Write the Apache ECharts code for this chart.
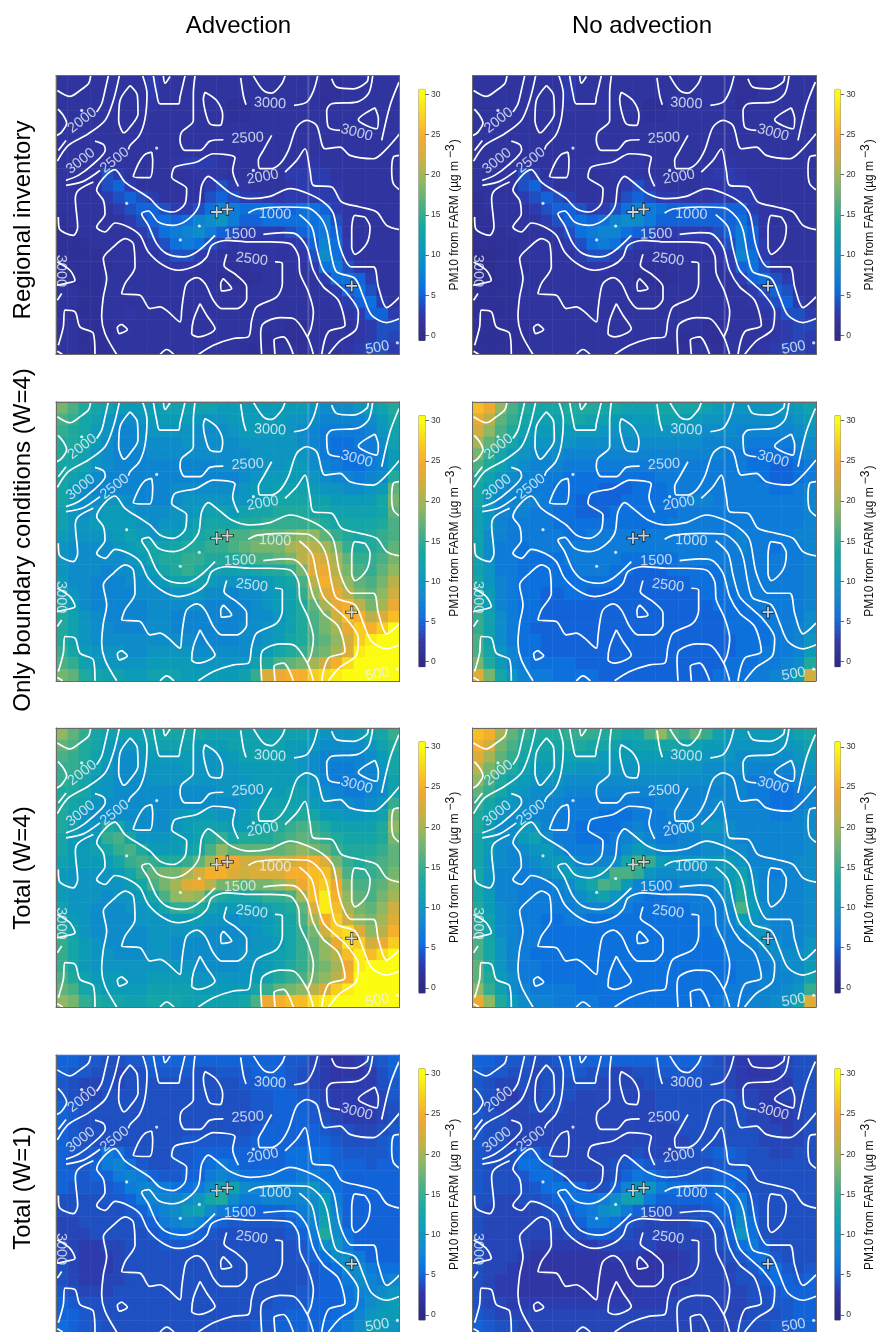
<!DOCTYPE html>
<html><head><meta charset="utf-8">
<style>html,body{margin:0;padding:0;background:#fff}#c{width:877px;height:1332px}</style>
<script src="https://cdn.jsdelivr.net/npm/echarts@6/dist/echarts.min.js"></script>
</head><body><div id="c"></div>
<script>
const columnTitles = ['Advection','No advection'];
const rowTitles = ['Regional inventory','Only boundary conditions (W=4)','Total (W=4)','Total (W=1)'];
const colorStops = ['#2e2a85','#3037a8','#0c6ce0','#0e86d0','#0c9bb8','#18a8a0','#50b080','#90b860','#cbb040','#f5a830','#f8d020','#fcfc10'];
const colorbarTicks = [0,5,10,15,20,25,30];

const regionalAdv = [
[2,2,2,2,2,2,2,2,3,2,2,2,2,2,2,2,2,2,2,2,2,2,2,1.5,1.5,2,2,2,2,2],
[2,2,2,2,2,2,2,2,3,2,2,2,2,2,2,2,2,2,2,2,2,2,2,1.5,1.5,2,2,2,2,2],
[2,2,2,2,2,2,2,2,2.5,2,2,2,2,2,2,1.5,1.5,2,2,2,2,2,2,1.5,2,2,2,2,2,2],
[2,2,2,2,2,2,2,2,2,2,2,2,2,2,2,1.5,1.5,2,2,2,2,2,2,2,2,2,2,2,2,2],
[2,2,2,2,2,2,2,2,2,2,2,2,2,2,2,2,2,2,2,2,2,2,2,2,2,2,2,2,2,2],
[2,2,2,2,2,2,2,2,2,2,2,2,2,2,2,2,2,2,2,2,2,2,2,2,2,2,2,2,2,2],
[2,2,2,2,2,2,2,2,2,2,2,2,2,2,2,2,2,2,2,2,2,2,2,2,2,2,2,2,2,2],
[2,2,2,2,2,2,2,2,2,2,2.5,3,3,3,2.5,2,2,2,2,2,2,2.5,2.5,2,2,2,2,2,2,2],
[2,2,2,2,4,3,2,2,2,2,2,2,2.5,2.5,2.5,2,2,2,2,2,3,3,3,3,2,2,2,2,2,2],
[2,2,2,2,4,5,3,2,2,2,2,2,2,3,4,3,2.5,2,2,2,2.5,3,3,3,2.5,2,2,2,2,2],
[2,2,2,2,3,4,5,4,3,2,2,2,2,4,5,4,3,3,2.5,2.5,3,3,3,3,3,2,2,2,2,2],
[2,2,2,2,2,3,4,5,5,4,3,3,4,6,8,7,6,6,6,5,5,6,6,5,3,2.5,2,2,2,2],
[1.5,2,2,2,2,2,3,4,5,6,5,6,8,9,10,7,5,5,6,6,6,6,6,7,4,2.5,2,2,2,2],
[1.5,1.5,2,2,2,2,2,3,4,6,7,8,9,7,5,4,3,3,3,3,4,5,6,7,5,2.5,2,2,2,2],
[1.5,1.5,1.5,2,2,2,2,2,3,4,6,7,6,4,3,2.5,2.5,2.5,2.5,2.5,2.5,3,5,8,6,3,2,2,2,2],
[1.5,1.5,1.5,1.5,2,2,2,2,2,3,4,4,3,2.5,2,2,2,2,2,2,2,2.5,4,9,6,3,2,2,2,2],
[1.5,1.5,1.5,1.5,1.5,2,2,2,2,2,2.5,2.5,2,2,2,1.5,1.5,2,2,2,2,2,3,6,7,4,2.5,2,2,2],
[1.5,1.5,1.5,1.5,2,2,2,2,2,2,2,2,2,2,1.5,1.5,1.5,1.5,2,2,2,2,2,3,6,6,5,3,2,2],
[2,2,1.5,1.5,2,2,2,2,2,2,2,2,2,2,2,2,1.5,2,2,2,2,2,2,2,3,5,6,4,2,2],
[2,2,1.5,1.5,2,2,2,2,2,2,2,2,2,2,2,2,2,2,2,2,2,2,2,2,2.5,3,5,6,3,2],
[2,1.5,1.5,1.5,2,2,2.5,2,2,2,2,2,2,2,2,2,2,2,2,2,2,2,2,2,2,2.5,3,5,5,3],
[2,2,1.5,1.5,1.5,2,2,2,2,2,2,2,2,2,2,2,2,2,2,2,1.5,1.5,2,2,2,2,2.5,3,4,4],
[2,2,1.5,1.5,1.5,2,2,2,2,2,2,2,2,2,2,2,2,2,1.5,1.5,1.5,1.5,2,2,2,2,2.5,3,4,3.5],
[2,2,1.5,1.5,1.5,2,2,2,2,2,2,2,2,2,2,2,1.5,1.5,1.5,2,2,1.5,2,2,2,2.5,3,4,4,3]];
const regionalNoAdv = [
[2,2,2,2,2,2,2,2,3,2,2,2,2,2,2,2,2,2,2,2,2,2,2,1.5,1.5,2,2,2,2,2],
[2,2,2,2,2,2,2,2,3,2,2,2,2,2,2,2,2,2,2,2,2,2,2,1.5,1.5,2,2,2,2,2],
[2,2,2,2,2,2,2,2,2.5,2,2,2,2,2,2,1.5,1.5,2,2,2,2,2,2,1.5,2,2,2,2,2,2],
[2,2,2,2,2,2,2,2,2,2,2,2,2,2,2,1.5,1.5,2,2,2,2,2,2,2,2,2,2,2,2,2],
[2,2,2,2,2,2,2,2,2,2,2,2,2,2,2,2,2,2,2,2,2,2,2,2,2,2,2,2,2,2],
[2,2,2,2,2,2,2,2,2,2,2,2,2,2,2,2,2,2,2,2,2,2,2,2,2,2,2,2,2,2],
[2,2,2,2,2,2,2,2,2,2,2,2,2,2,2,2,2,2,2,2,2,2,2,2,2,2,2,2,2,2],
[2,2,2,2,2,2,2,2,2,2,2.5,2.5,2.5,2.5,2.5,2,2,2,2,2,2,2.5,2.5,2,2,2,2,2,2,2],
[2,2,2,2,4,3,2,2,2,2,2,2,2.5,2.5,2.5,2,2,2,2,2,2.5,3,3,2.5,2,2,2,2,2,2],
[2,2,2,2,4,5,3,2,2,2,2,2,2,3,4,3,2.5,2,2,2,2.5,2.5,3,3,2.5,2,2,2,2,2],
[1.5,2,2,2,3,4,5,4,3,2,2,2,2,4,5,4,3,3,2.5,2.5,2.5,3,3,3,3,2,2,2,2,2],
[1.5,2,2,2,2,3,4,5,5,4,3,3,4,6,8,7,6,5,5,5,5,5,5,5,3,2.5,2,2,2,2],
[1.5,1.5,2,2,2,2,3,4,5,6,5,6,8,9,9,7,5,5,5,5,5,5,5,6,4,2.5,2,2,2,2],
[1.5,1.5,1.5,2,2,2,2,3,4,6,7,8,8,6,5,4,3,3,3,3,3,4,5,7,5,2.5,2,2,2,2],
[1.5,1.5,1.5,1.5,2,2,2,2,3,4,6,7,6,4,3,2.5,2.5,2.5,2.5,2.5,2.5,3,4,7,5,3,2,2,2,2],
[1,1,1.5,1.5,2,2,2,2,2,3,4,4,3,2.5,2,2,2,2,2,2,2,2.5,3,8,6,3,2,2,2,2],
[1,1,1.5,1.5,1.5,2,2,2,2,2,2.5,2.5,2,2,2,1.5,1.5,2,2,2,2,2,3,5,6,4,2.5,2,2,2],
[1,1,1.5,1.5,2,2,2,2,2,2,2,2,2,2,1.5,1.5,1.5,1.5,2,2,2,2,2,3,5,6,4,3,2,2],
[1.5,1.5,1.5,1.5,2,2,2,2,2,2,2,2,2,2,2,2,1.5,2,2,2,2,2,2,2,3,4,5,4,2,2],
[1.5,1.5,1.5,1.5,2,2,2,2,2,2,2,2,2,2,2,2,2,2,2,2,2,2,2,2,2.5,3,4,5,3,2],
[1.5,1.5,1.5,1.5,2,2,2,2,2,2,2,2,2,2,2,2,2,2,2,2,2,2,2,2,2,2.5,3,4,4,3],
[1.5,1.5,1.5,1.5,1.5,2,2,2,2,2,2,2,2,2,2,2,2,2,2,2,1.5,1.5,2,2,2,2,2.5,3,3.5,3.5],
[1.5,1.5,1.5,1.5,1.5,2,2,2,2,2,2,2,2,2,2,2,2,2,1.5,1.5,1.5,1.5,2,2,2,2,2.5,3,3.5,3],
[1.5,1.5,1.5,1.5,1.5,2,2,2,2,2,2,2,2,2,2,2,1.5,1.5,1.5,2,2,1.5,2,2,2,2.5,3,3.5,3.5,3]];
const boundaryAdv = [
[18,16,14,13,12,11,11,11,11,12,12,12,12,12,11,11,11,11,11,11,11,11,10,9,9,9,10,11,12,14],
[16,15,13,12,10,9,9,10,11,11,11,11,10,10,10,11,11,11,11,11,10,10,9,8,8,8,8,9,11,13],
[15,14,13,11,10,8,8,9,10,10,10,10,9,9,9,10,11,11,11,11,10,9,8,7,7,7,7,8,10,12],
[14,14,13,11,9,8,8,9,9,9,9,10,9,9,9,9,10,10,10,10,10,9,8,7,6,6,7,7,9,12],
[14,13,12,10,9,8,8,8,9,9,9,9,9,9,9,9,9,10,10,10,10,10,9,7,6,6,6,7,8,11],
[13,13,12,10,9,8,8,8,8,8,8,8,8,8,9,9,9,9,10,10,11,11,9,8,7,6,6,7,8,11],
[13,12,11,9,8,8,8,8,8,8,8,8,8,8,8,8,9,10,11,11,11,11,10,9,8,8,7,8,9,14],
[13,11,9,8,8,8,8,8,8,8,9,9,9,9,9,9,10,11,11,12,12,12,11,10,10,9,9,10,11,17],
[13,11,9,9,10,10,9,8,8,8,9,10,10,10,10,10,10,11,12,13,13,13,12,12,11,11,11,11,13,18],
[12,10,9,10,11,11,10,9,9,9,10,10,11,12,12,11,12,13,13,14,14,14,13,13,12,12,12,12,13,17],
[12,10,10,11,11,11,11,10,9,10,10,11,12,13,13,13,14,14,15,15,15,15,15,14,13,13,13,13,14,16],
[11,10,10,10,10,11,12,11,10,11,11,12,13,14,15,16,16,17,17,17,18,19,19,17,15,14,13,14,15,16],
[10,9,9,9,9,10,11,12,13,12,13,14,14,15,15,16,17,18,18,18,20,21,21,20,18,15,14,14,15,17],
[10,9,9,9,9,9,10,11,13,14,14,15,15,14,14,14,15,16,16,17,18,21,23,22,20,17,15,15,16,18],
[10,9,9,9,8,9,9,10,11,13,14,15,14,12,12,12,12,13,14,14,15,18,23,24,21,18,16,15,17,19],
[11,9,9,8,8,8,9,9,10,11,12,12,12,11,10,10,10,10,11,12,13,16,21,25,22,19,17,16,18,21],
[12,10,9,8,8,8,8,9,9,9,10,10,10,9,9,8,9,9,10,11,12,15,19,23,24,21,18,17,19,22],
[13,11,9,8,8,8,8,8,9,9,9,9,9,8,8,8,8,9,10,11,12,14,17,20,24,25,21,18,20,24],
[14,12,10,9,8,8,8,8,9,9,8,8,8,8,8,8,8,9,9,10,12,14,16,18,22,26,25,21,23,26],
[14,12,10,9,9,8,8,8,9,9,8,8,8,8,8,8,9,9,10,11,12,14,16,18,20,24,27,25,27,30],
[14,12,10,9,9,9,9,9,9,9,9,9,8,8,8,8,9,9,10,11,13,14,16,17,19,22,27,29,30,30],
[15,13,11,10,10,10,9,9,10,10,10,10,9,9,9,9,9,10,11,13,14,15,17,18,20,23,29,30,30,30],
[16,15,12,11,10,10,10,10,11,11,11,11,10,10,10,10,10,12,14,16,17,18,20,22,25,28,30,30,30,30],
[18,17,14,13,12,12,11,11,12,12,12,11,11,11,11,11,12,15,23,24,25,25,27,28,29,30,30,30,30,30]];
const boundaryNoAdv = [
[26,24,19,16,14,13,13,13,14,14,14,13,13,12,12,12,13,13,13,13,12,11,10,10,10,10,10,10,11,12],
[24,21,17,15,13,12,12,12,13,13,12,12,11,10,11,11,12,12,11,11,10,10,9,9,9,9,9,9,10,11],
[22,19,16,14,12,11,11,11,11,11,11,10,10,10,10,10,10,10,10,10,9,9,9,8,8,8,8,8,9,10],
[20,17,15,13,11,10,10,10,10,9,9,9,9,9,9,9,9,9,9,9,8,8,8,8,7,7,7,7,8,9],
[18,15,13,11,10,9,9,9,8,8,8,8,8,8,8,8,8,8,8,8,8,8,7,7,6,6,6,6,7,8],
[16,14,12,10,9,8,8,8,7,7,7,7,7,7,7,7,7,7,7,7,7,7,7,7,6,6,5,5,6,7],
[14,12,10,9,8,8,7,7,6,6,6,6,6,6,6,6,7,7,7,7,7,7,7,7,7,6,5,5,6,7],
[13,11,9,8,8,7,7,6,6,6,6,5,5,5,6,6,6,7,7,7,7,7,7,7,7,7,6,6,7,8],
[13,10,8,8,8,8,7,6,6,5,5,5,5,6,6,6,6,6,7,8,8,7,7,7,7,7,7,7,7,8],
[12,10,8,8,8,7,7,6,6,5,5,5,6,6,6,6,6,6,7,7,7,7,7,7,7,7,7,7,7,8],
[12,10,8,7,7,7,7,6,6,6,6,6,6,6,6,6,6,7,7,7,7,7,7,7,7,7,7,7,7,8],
[12,9,8,7,7,7,7,7,6,6,7,7,7,7,7,7,7,7,7,7,7,7,7,8,7,7,7,7,8,8],
[12,9,7,7,6,7,7,7,7,7,7,7,7,7,7,7,7,7,7,7,7,7,7,8,7,7,6,7,7,8],
[12,9,7,7,6,6,6,6,7,7,7,7,7,6,6,6,6,6,7,7,7,7,7,7,7,7,7,7,7,8],
[12,10,7,7,6,6,6,6,6,7,7,7,6,6,5,5,5,6,6,6,6,6,7,7,7,7,7,7,7,8],
[13,10,8,7,6,6,6,6,6,6,6,6,6,5,5,5,5,5,5,6,6,6,7,7,7,7,7,7,7,8],
[13,11,8,7,6,6,5,5,6,6,5,5,5,5,5,5,5,5,5,5,6,6,6,7,7,7,7,7,7,8],
[14,11,8,7,6,6,5,5,5,5,5,5,5,5,5,5,5,5,5,5,5,6,6,6,7,7,7,7,7,8],
[15,12,9,7,6,6,5,5,5,5,5,5,5,5,5,5,5,5,5,5,5,5,6,6,6,7,7,7,7,9],
[15,12,9,7,6,5,5,5,5,5,5,5,5,5,5,5,5,5,5,5,5,5,6,6,6,6,7,7,8,9],
[16,12,9,7,6,6,5,5,5,5,5,5,5,5,5,5,5,5,5,5,5,5,5,6,6,6,7,7,8,10],
[16,13,10,8,6,6,5,5,5,5,5,5,5,5,5,5,5,5,5,5,5,5,5,6,6,7,7,7,8,11],
[18,14,11,8,7,6,6,6,6,5,5,5,5,5,5,5,5,5,5,5,5,5,6,6,6,7,7,8,9,14],
[23,18,13,10,8,7,7,6,6,6,6,5,5,5,5,5,5,5,5,5,5,6,6,6,7,7,8,9,12,22]];
const totalW4Adv = [
[19,17,15,13,12,12,12,12,13,13,13,13,13,12,12,12,12,12,12,12,12,12,11,10,10,10,11,12,13,15],
[17,16,14,13,11,10,10,11,12,12,12,12,11,11,11,12,12,12,12,12,11,11,10,9,9,9,9,10,12,14],
[16,15,14,12,11,9,9,10,11,11,11,11,10,10,10,11,12,12,12,12,11,10,9,8,8,8,8,9,11,13],
[15,15,14,12,10,9,9,10,10,10,10,11,10,10,10,10,11,11,11,11,11,10,9,8,7,7,8,8,10,13],
[15,14,13,11,10,9,9,9,10,10,10,10,10,10,10,10,10,11,11,11,11,11,10,8,7,7,7,8,9,12],
[14,14,13,11,10,9,9,9,9,9,9,9,9,9,10,10,10,10,11,11,12,12,10,9,8,7,7,8,9,12],
[14,13,12,10,9,9,9,9,9,9,9,9,9,9,9,9,10,11,12,12,12,12,11,10,9,9,8,9,10,15],
[14,12,10,9,9,9,9,9,9,9,10,11,11,11,10,10,11,12,12,13,13,14,13,11,11,10,10,11,12,18],
[14,12,10,10,14,13,10,9,9,9,10,11,12,12,12,11,11,12,13,14,15,16,15,14,12,12,12,12,14,19],
[13,11,10,11,15,16,13,10,10,10,11,11,12,14,15,13,14,14,14,15,16,17,16,15,14,13,13,13,14,18],
[13,11,11,12,13,15,16,14,11,11,11,12,13,16,19,17,17,17,17,17,18,19,18,17,15,14,14,14,15,17],
[12,11,11,11,11,13,15,16,15,14,14,15,17,20,24,24,22,22,22,22,22,24,25,23,18,15,14,15,16,17],
[11,10,10,10,10,11,13,15,17,18,18,20,22,25,25,23,22,23,23,23,25,25,26,26,21,16,15,15,16,18],
[11,10,10,10,10,10,11,13,16,18,20,23,24,21,18,18,17,18,18,19,21,24,26,27,24,18,16,16,17,19],
[11,10,10,10,9,10,10,11,13,16,19,20,19,15,14,13,13,14,15,15,16,20,26,29,25,19,17,16,18,20],
[12,10,10,9,9,9,10,10,11,13,15,15,14,12,11,11,11,11,12,13,14,17,23,29,26,20,18,17,19,22],
[13,11,10,9,9,9,9,10,10,10,11,11,11,10,10,9,10,10,11,12,13,16,20,25,27,22,19,18,20,23],
[14,12,10,9,9,9,9,9,10,10,10,10,10,9,9,9,9,10,11,12,13,15,18,22,27,28,23,19,21,25],
[15,13,11,10,9,9,9,9,10,10,9,9,9,9,9,9,9,10,10,11,13,15,17,19,24,28,27,22,24,27],
[15,13,11,10,10,9,9,9,10,10,9,9,9,9,9,9,10,10,11,12,13,15,17,19,21,26,29,26,28,30],
[15,13,11,10,10,10,10,10,10,10,10,10,9,9,9,9,10,10,11,12,14,15,17,18,20,24,29,30,30,30],
[16,14,12,11,11,11,10,10,11,11,11,11,10,10,10,10,10,11,12,14,15,16,18,19,21,25,30,30,30,30],
[17,16,13,12,11,11,11,11,12,12,12,12,11,11,11,11,11,13,15,17,18,19,21,23,27,29,30,30,30,30],
[19,18,15,14,13,13,12,12,13,13,13,12,12,12,12,12,13,16,24,25,26,26,28,29,30,30,30,30,30,30]];
const totalW4NoAdv = [
[26,25,20,17,15,14,14,14,15,15,15,14,14,13,13,16,19,16,15,17,15,12,11,11,11,11,11,11,12,13],
[25,22,18,16,14,13,13,13,14,14,13,13,12,11,12,12,13,13,12,12,11,11,10,10,10,10,10,10,11,12],
[23,20,17,15,13,12,12,12,12,12,12,11,11,11,11,11,11,11,11,11,10,10,10,9,9,9,9,9,10,11],
[21,18,16,14,12,11,11,11,11,10,10,10,10,10,10,10,10,10,10,10,9,9,9,9,8,8,8,8,9,10],
[19,16,14,12,11,10,10,10,9,9,9,9,9,9,9,9,9,9,9,9,9,9,8,8,7,7,7,7,8,9],
[17,15,13,11,10,9,9,9,8,8,8,8,8,8,8,8,8,8,8,8,8,8,8,8,7,7,6,6,7,8],
[15,13,11,10,9,9,8,8,7,7,7,7,7,7,7,7,8,8,8,8,8,9,8,8,8,7,6,6,7,8],
[14,12,10,9,9,8,8,7,7,7,7,6,6,6,7,7,7,8,8,8,8,9,8,8,8,8,7,7,8,9],
[14,11,9,9,11,10,8,7,7,6,6,6,6,7,8,7,7,7,8,9,10,10,9,8,8,8,8,8,8,9],
[13,11,9,9,11,12,9,7,7,6,6,6,7,8,9,8,7,7,8,8,9,9,9,8,8,8,8,8,8,9],
[13,11,9,8,9,10,11,9,7,7,7,7,7,9,11,10,8,8,8,8,9,9,9,9,8,8,8,8,8,9],
[13,10,9,8,8,9,10,11,10,8,8,8,9,13,16,15,11,10,10,10,10,11,11,10,8,8,8,8,9,9],
[13,10,8,8,7,8,9,10,11,10,10,11,16,16,15,10,9,9,9,9,10,10,11,12,9,8,7,8,8,9],
[13,10,8,8,7,7,7,8,9,11,13,16,15,11,8,8,7,7,8,8,8,9,11,13,10,8,8,8,8,9],
[13,11,8,8,7,7,7,7,8,9,11,12,10,8,7,6,6,7,7,7,7,8,10,14,11,8,8,8,8,9],
[14,11,9,8,7,7,7,7,7,8,8,8,8,7,6,6,6,6,6,7,7,7,9,16,11,9,8,8,8,9],
[14,12,9,8,7,7,6,6,7,7,6,6,6,6,6,6,6,6,6,6,7,7,8,11,10,9,8,8,8,9],
[15,12,9,8,7,7,6,6,6,6,6,6,6,6,6,6,6,6,6,6,6,7,7,8,10,10,8,8,8,9],
[16,13,10,8,7,7,6,6,6,6,6,6,6,6,6,6,6,6,6,6,6,6,7,7,8,10,9,8,8,10],
[16,13,10,8,7,6,6,6,6,6,6,6,6,6,6,6,6,6,6,6,6,6,7,7,7,8,9,9,9,10],
[17,13,10,8,7,7,6,6,6,6,6,6,6,6,6,6,6,6,6,6,6,6,6,7,7,7,8,9,9,11],
[17,14,11,9,7,7,6,6,6,6,6,6,6,6,6,6,6,6,6,6,6,6,6,7,7,8,8,8,9,12],
[19,15,12,9,8,7,7,7,7,6,6,6,6,6,6,6,6,6,6,6,6,6,7,7,7,8,8,9,10,15],
[24,19,14,11,9,8,8,7,7,7,7,6,6,6,6,6,6,6,6,6,6,7,7,7,8,8,9,10,13,23]];
const totalW1Adv = [
[5,5,4.5,4.5,4,4,4.5,4.5,5,5,5,5,5,5,5,5,5,5,5,5,4.5,4.5,3.5,3,2.5,2.5,3,4,4.5,5],
[5,4.5,4.5,4,4,3.5,4,4,4.5,4.5,4.5,4.5,4,4,4.5,4.5,4.5,5,5,5,4.5,4,3.5,3,2.5,2.5,2.5,3,4,5],
[4.5,4,3.5,3.5,4,3.5,4,4,4,4,4,4,4,4,4,4,4.5,4.5,5,5,4.5,4,3.5,3,2.5,3,3,3,4,4.5],
[4.5,4,3.5,3.5,4,4,4,4,4,4,4,4,4,4,4,4,4,4.5,4.5,5,5,4.5,4,3.5,3,3,3,3,3.5,4.5],
[5,4.5,4,4,4,4,4,4,4,4,4,4,4,4,4,4,4,4.5,4.5,5,5,5,4.5,3.5,3,3,3,3,3.5,4],
[5,4.5,4,4,4,4,4,4,4,4,4,4,4,4,4,4,4,4,4.5,5,5,5,4.5,4,3.5,3,3,3,3.5,4],
[5,4.5,4,4,4,4,4,4,4,4,4,4,4,4,4,4,4,4.5,5,5,5,5,5,4.5,4,4,3.5,3.5,4,4.5],
[5,4.5,4,4,4,4,4,4,4,4,4,4.5,4.5,4.5,4.5,4.5,4.5,5,5,5,5,5,5,5,4.5,4,4,4,4.5,5],
[5,4.5,4.5,4.5,7,6,4.5,4,4,4,4.5,4.5,5,5,5,5,5,5,5,5,6,6,6,5.5,5,4.5,4.5,4.5,4.5,5],
[5,4.5,4.5,5,7,8,6,4.5,4,4,4.5,4.5,5,6,7,6,5,5,5,5,5.5,6,6,6,5,5,5,4.5,5,5],
[5,5,4.5,5,5,7,8,7,5,4.5,4.5,5,5,7,8,7,6,6,6,6,6,7,7,6,6,5,5,5,5,5],
[5,4.5,4.5,4.5,4.5,5,7,8,8,7,6,6,7,9,12,12,9,8,8,8,8,9,10,8,6,5,5,5,5,5],
[4,4,4,4,4.5,4.5,5,7,8,8,8,9,10,13,14,9,7,7,8,8,8,8,9,11,7,5,5,5,5,5],
[4,4,4,4,4,4,4.5,5,7,8,9,11,12,9,7,6,5,5,5,5,6,7,9,11,8,5,5,5,5,5],
[3.5,3.5,4,4,4,4,4,4.5,5,7,8,9,8,6,5,4.5,4.5,4.5,4.5,4.5,5,6,8,12,9,5,5,5,5,5],
[3.5,3.5,3.5,4,4,4,4,4,4.5,5,6,6,5,4.5,4,4,4,4,4,4,4.5,5,7,14,9,6,5,5,5,5],
[3.5,3.5,3,3,3.5,3.5,4,4,4,4.5,4.5,4.5,4,4,4,4,4,4,4,4,4,4.5,6,9,10,7,5,5,5,5],
[3.5,3.5,3,3,3,3.5,4,4,4,4,4,4,4,4,4,4,4,4,4,4,4,4.5,5,6,9,9,7,5,5,5],
[4,3.5,3,3,3,3.5,4,4,4,4,4,4,4,4,4,4,4,4,4,4,4,4,4.5,5,6,9,9,7,6,6],
[4,3.5,3,3,3.5,3.5,4,4,4,4,4,4,4,4,4,4,4,4,4,4,4,4,4.5,5,5,7,9,8,7,8],
[4.5,4,3.5,3.5,3.5,4,4,4,4,4,4,4,4,4,4,4,4,4,4,4,4,4.5,4.5,5,5,6,8,8,9,10],
[5,4.5,4,4,4,4,4,4,4,4,4,4,4,4,4,4,4,4,4,4.5,4.5,4.5,5,5,5,6,7,9,10,11],
[5,5,4.5,4,4,4,4,4,4,4,4,4,4,4,4,4,4,4,4.5,4.5,5,5,5,5,5.5,6,8,10,11,11],
[5.5,5,4.5,4.5,4,4,4,4,4,4,4,4,4,4,4,4,4,4.5,4.5,5,5,5,5,5.5,6,7,9,11,11,10]];
const totalW1NoAdv = [
[5,5,4.5,4.5,4.5,4,4,4.5,5,5,5,5,5,5,5,5,5,5,5,5,4.5,4,3.5,3,3,3,3,3.5,4,4],
[5,4.5,4.5,4,4,3.5,4,4,4.5,4.5,4,4,3.5,3.5,4,4,4.5,4.5,4.5,4.5,4,4,3.5,3,2.5,2.5,3,3.5,4,4],
[4.5,4,3.5,3.5,4,3.5,4,4,4,4,4,3.5,3.5,3.5,3.5,4,4,4,4,4,4,4,3.5,3,3,3,3,3,4,4],
[4.5,4,3.5,3,3.5,3.5,4,4,4,3.5,3.5,3.5,3.5,3.5,3.5,3.5,4,4,4,4,4,4,4,3.5,3.5,3,3,3.5,3.5,4],
[4.5,4,3.5,3.5,3.5,4,4,4,3.5,3.5,3.5,3.5,3.5,3.5,3.5,3.5,4,4,4,4,4,4,4,4,3.5,3,3,3,3.5,4],
[4.5,4,4,3.5,3.5,3.5,3.5,3.5,3.5,3.5,3.5,3.5,3.5,3.5,3.5,3.5,3.5,4,4,4,4,4,4,4,3.5,3.5,3,3,3.5,4],
[4.5,4,4,3.5,3.5,3.5,3.5,3.5,3.5,3.5,3.5,3.5,3.5,3.5,3.5,3.5,3.5,3.5,4,4,4,4,4,4,4,3.5,3.5,3,3.5,4],
[4.5,4,4,3.5,3.5,3.5,3.5,3.5,3.5,3.5,3.5,3.5,3.5,3.5,3.5,3.5,3.5,3.5,3.5,4,4,4,4,4,4,3.5,3.5,3.5,3.5,4],
[4.5,4,4,4,5,5,4,3.5,3.5,3.5,3.5,3.5,3.5,3.5,4,3.5,3.5,3.5,4,4,4.5,5,5,4.5,4,4,3.5,3.5,4,4],
[4.5,4,4,4,6,6,5,3.5,3.5,3.5,3.5,3.5,4,4.5,5,4.5,4,4,4,4,4,4.5,4.5,4.5,4,4,4,4,4,4],
[4.5,4,4,4,4.5,5.5,6,5,3.5,3.5,3.5,3.5,4,5,6.5,6,5,4.5,4.5,4.5,4.5,5,5,5,4,4,4,4,4,4],
[4.5,4,4,4,4,4.5,5.5,6.5,6,5,4,4,5,8,10,10,7,6,5.5,5,5,6,6,5,4,4,4,4,4,4],
[4,4,3.5,3.5,4,4,4.5,5,6,6,6,7,9,12,12,7,5,5,5,5,5,5.5,6,7,4.5,4,4,4,4,4],
[4,3.5,3.5,3.5,3.5,3.5,4,4.5,5,6,7,9,10,7,5,4,4,4,4,4,4.5,5,6,8,5,4,4,4,4,4],
[4,3.5,3.5,3.5,3.5,3.5,3.5,4,4,5,7,7,6,4.5,4,3.5,3.5,3.5,3.5,4,4,4.5,5,9,6,4,4,4,4,4],
[4,3.5,3.5,3.5,3.5,3.5,3.5,3.5,4,4,5,5,4.5,4,3.5,3.5,3.5,3.5,3.5,3.5,3.5,4,5,10,6,4,4,4,4,4],
[4,3.5,3.5,3.5,3.5,3,3,3,3,3,3,3.5,3.5,3.5,3.5,3.5,3,3,3.5,3.5,3.5,4,4.5,6,7,5,4,4,4,4],
[4,3.5,3.5,3.5,3,2.5,2.5,2.5,2.5,2.5,2.5,2.5,3,3,3,2.5,2.5,2.5,3,3.5,3.5,3.5,4,4.5,5.5,6,4.5,4,4,4],
[4,3.5,3.5,3,2.5,2.5,2.5,2.5,2.5,2.5,2.5,2.5,2.5,2.5,2.5,2.5,2.5,3,3,3.5,3.5,3.5,3.5,4,4.5,5.5,6,4.5,4,4.5],
[4,3.5,3,3,2.5,2.5,2.5,2.5,2.5,2.5,2.5,2.5,2.5,2.5,2.5,2.5,3,3,3,3.5,3.5,3.5,3.5,4,4,4.5,5.5,5,4.5,5],
[4,3.5,3,3,2.5,2.5,2.5,2.5,2.5,2.5,2.5,2.5,2.5,2.5,3,3,3,3,3.5,3.5,3.5,3.5,3.5,3.5,4,4,4.5,5,5,5],
[4,3.5,3.5,3,3,3,3,3,3,3,3,3,3,3,3,3,3,3.5,3.5,3.5,3.5,3.5,3.5,3.5,4,4,4.5,4.5,5,5],
[4.5,4,3.5,3.5,3.5,3.5,3.5,3.5,3.5,3.5,3.5,3.5,3.5,3.5,3.5,3.5,3.5,3.5,3.5,3.5,3.5,3.5,3.5,3.5,4,4,4,4.5,5,5],
[5,4.5,4,4,3.5,3.5,3.5,3.5,3.5,3.5,3.5,3.5,3.5,3.5,3.5,3.5,3.5,3.5,3.5,3.5,3.5,3.5,3.5,4,4,4,4.5,4.5,5,5]];

// terrain contours, map coordinates (x 18..1049, y 15..853, y downward)
const contours = [
[[22,60],[60,78],[90,60],[115,40],[122,16]],
[[24,116],[40,135],[50,158],[35,185],[20,195]],
[[25,240],[48,210]],
[[140,125],[155,100],[165,60],[175,16]],
[[240,45],[262,75],[264,130],[240,170],[222,187],[206,150],[210,90],[240,45]],
[[278,16],[291,70],[285,145],[268,195],[240,225],[235,237]],
[[22,272],[55,225],[115,190],[165,150],[190,90],[208,16]],
[[135,212],[160,222],[166,238],[125,285],[85,315],[48,330]],
[[48,345],[100,333],[150,300]],
[[25,440],[28,475],[70,495],[83,470],[76,385],[85,360],[130,335]],
[[565,348],[548,300],[555,262],[490,250],[440,275],[375,290],[365,320],[410,355],[405,400],[370,425],[330,415],[300,385],[270,365],[225,335],[195,298],[140,360],[160,390],[165,430],[140,470],[165,485],[195,458],[235,470],[270,495],[295,545],[340,585],[385,600],[440,585],[470,560],[485,525],[530,510],[600,515],[660,515],[720,520],[745,555],[750,610],[775,665],[790,725],[783,775],[772,800]],
[[495,495],[440,545],[400,560],[350,550],[320,520],[295,465],[275,430],[295,422],[325,455],[370,465],[410,450],[445,410],[455,345],[475,318],[500,335],[545,370],[600,385],[660,378],[720,355],[770,368],[820,395],[850,430],[870,530],[905,590],[970,590],[985,650],[1010,712],[1049,680]],
[[595,428],[620,416],[700,410],[770,412],[810,440],[830,480],[845,560],[860,605],[915,625],[940,680],[965,735],[1010,757],[1049,745]],
[[748,433],[785,470],[800,535],[820,600],[860,640],[890,668],[925,725],[918,778],[870,812],[835,853]],
[[640,492],[700,487],[735,490],[770,530],[790,600],[820,650],[865,690],[885,765],[835,785],[815,853]],
[[635,853],[632,790],[640,760],[690,742],[730,745],[772,800],[790,853]],
[[675,853],[672,810],[700,800],[730,853]],
[[675,575],[697,580],[697,640],[680,680],[620,710],[605,750],[595,800],[550,805],[490,825],[445,853]],
[[530,552],[522,585],[560,615],[590,650],[590,685],[560,715],[515,715],[490,690],[465,640],[440,622],[410,640],[400,680],[395,720],[390,755],[355,725],[330,710],[300,715],[270,675],[215,670],[225,640],[255,590],[250,520],[225,505],[190,530],[160,565],[170,625],[160,680],[155,740],[165,790],[200,853]],
[[520,625],[545,655],[515,662],[512,640],[520,625]],
[[450,700],[470,735],[495,775],[445,800],[425,790],[430,750],[450,700]],
[[215,762],[232,778],[208,790],[202,772],[215,762]],
[[305,245],[308,270],[298,322],[250,318],[265,280],[285,252],[305,245]],
[[340,16],[345,38],[360,18]],
[[310,16],[320,70],[330,100],[385,100],[390,80],[405,16]],
[[435,16],[430,70],[430,150],[395,185],[390,210],[405,240],[450,240],[480,212],[520,208]],
[[465,65],[500,90],[518,135],[510,165],[480,160],[465,120],[460,85],[465,65]],
[[572,22],[580,75],[588,103]],
[[610,16],[640,60],[665,68],[695,40],[705,16]],
[[732,105],[770,95],[790,62],[803,16]],
[[665,195],[640,240],[625,270],[630,295],[660,295],[690,280],[715,240],[740,170],[770,150],[800,165],[825,235],[870,230],[900,255],[970,265],[1005,240],[1049,190]],
[[705,305],[740,270],[765,235],[780,300],[790,345],[845,350],[875,395],[930,410],[980,425],[1010,465],[1049,478]],
[[845,25],[860,50],[910,55],[950,35],[955,16]],
[[870,180],[835,170],[830,120],[845,100],[920,95],[955,70],[968,16]],
[[995,210],[1020,105],[1047,35]],
[[975,112],[985,145],[980,175],[925,148],[975,112]],
[[1049,255],[1030,260],[1025,300],[1030,340],[1049,358]],
[[945,440],[960,470],[950,520],[915,552],[905,530],[905,480],[915,435],[945,440]],
[[22,575],[60,600],[75,630],[45,640],[20,645]],
[[35,670],[22,690]],
[[25,825],[40,770],[45,720],[75,725],[90,770],[130,790],[135,853]],
[[22,843],[38,853]],
[[330,853],[350,838],[372,853]]
];
const contourLabels = [
['2000',97,150,38],['3000',92,272,38],['2500',194,270,38],['3000',660,99,-3],['3000',920,187,-15],
['2500',593,203,3],['2000',638,320,10],['1000',675,432,-2],['1500',570,492,2],['2500',605,567,-7],
['500',982,833,10],['3000',34,602,-90]
];
const townDots = [[230,399],[448,467],[391,509],[320,233],[95,120],[610,300],[1042,818]];
const stationCrosses = [[500,425],[532,417],[905,647]];
const panelValues = [regionalAdv,regionalNoAdv,boundaryAdv,boundaryNoAdv,totalW4Adv,totalW4NoAdv,totalW1Adv,totalW1NoAdv];

const rowTops = [75.5,401.8,728,1055], colLefts = [56,472.3], barLefts = [419,835];
const mapW = 343.7, mapH = 279;
const xCats = panelValues[0][0].map((_,i)=>String(i));
const yCats = panelValues[0].map((_,j)=>String(j));
const barLevels = []; for (let k=0;k<125;k++) barLevels.push(String(-0.5+k*0.25));
const plus = 'path://M4.2,0h1.6v4.2h4.2v1.6h-4.2v4.2h-1.6v-4.2h-4.2v-1.6h4.2z';
const plusBold = 'path://M3.8,0h2.4v3.8h3.8v2.4h-3.8v3.8h-2.4v-3.8h-3.8v-2.4h3.8z';

const grid=[],xAxis=[],yAxis=[],series=[],vmIdx=[];
panelValues.forEach((vals,p)=>{
  const top=rowTops[p>>1], left=colLefts[p&1];
  const g=grid.length;
  grid.push({left,top,width:mapW,height:mapH,show:false});
  const line={show:true,onZero:false,lineStyle:{color:'#6a6a6a',width:1}};
  const xc=xAxis.length, yc=yAxis.length;
  xAxis.push({type:'category',gridIndex:g,data:xCats,position:'top',axisLine:line,axisTick:{show:false},axisLabel:{show:false},splitLine:{show:false},z:10});
  xAxis.push({type:'value',gridIndex:g,min:18,max:1049,position:'bottom',axisLine:line,axisTick:{show:false},axisLabel:{show:false},splitLine:{show:false},z:10});
  yAxis.push({type:'category',gridIndex:g,data:yCats,inverse:true,position:'right',axisLine:line,axisTick:{show:false},axisLabel:{show:false},splitLine:{show:false},z:10});
  yAxis.push({type:'value',gridIndex:g,min:15,max:853,inverse:true,position:'left',axisLine:line,axisTick:{show:false},axisLabel:{show:false},splitLine:{show:false},z:10});
  const cells=[]; vals.forEach((r,j)=>r.forEach((v,i)=>cells.push([i,j,v])));
  vmIdx.push(series.length);
  series.push({type:'heatmap',xAxisIndex:xc,yAxisIndex:yc,data:cells,progressive:0,silent:true});
  const common={xAxisIndex:xc+1,yAxisIndex:yc+1,silent:true,animation:false};
  series.push({...common,type:'line',data:[[775,15],[775,853]],symbol:'none',lineStyle:{color:'rgba(255,255,255,0.18)',width:2}});
  contours.forEach(c=>series.push({...common,type:'line',data:c,symbol:'none',smooth:0.3,clip:true,lineStyle:{color:'#fff',width:1.7}}));
  series.push({...common,type:'scatter',data:contourLabels.map(l=>({value:[l[1],l[2]],label:{formatter:l[0],rotate:l[3]}})),symbolSize:0,
    label:{show:true,position:'inside',color:'#eef2fa',fontFamily:'Liberation Sans',fontSize:14.5}});
  series.push({...common,type:'scatter',data:townDots,symbol:'circle',symbolSize:3.2,itemStyle:{color:'#fff'}});
  series.push({...common,type:'scatter',data:stationCrosses,symbol:plusBold,symbolSize:13,itemStyle:{color:'#111'}});
  series.push({...common,type:'scatter',data:stationCrosses,symbol:plus,symbolSize:11,itemStyle:{color:'#fff'}});
  // colour bar
  const bg=grid.length;
  grid.push({left:barLefts[p&1],top:top+13.9,width:6,height:251,show:true,borderColor:'#6a6a6a',borderWidth:1,backgroundColor:'transparent'});
  const bx=xAxis.length, by=yAxis.length;
  const showTick=(i,v)=>colorbarTicks.includes(Number(v));
  xAxis.push({type:'category',gridIndex:bg,data:['bar'],show:false});
  yAxis.push({type:'category',gridIndex:bg,data:barLevels,position:'right',
    axisLine:{show:false},
    axisTick:{show:true,alignWithLabel:true,interval:showTick,length:4,lineStyle:{color:'#666',width:1}},
    axisLabel:{show:true,interval:showTick,color:'#333',fontSize:8.5,fontFamily:'Liberation Sans',margin:6,formatter:v=>v},
    splitLine:{show:false},
    name:'{n|PM10 from FARM (µg m}{s|−3}{n|)}',nameLocation:'middle',nameRotate:90,nameGap:19,
    nameTextStyle:{rich:{n:{fontSize:12,fontFamily:'Liberation Sans',color:'#111'},s:{fontSize:12,fontFamily:'Liberation Sans',color:'#111',padding:[0,1,9,3]}}}});
  vmIdx.push(series.length);
  series.push({type:'heatmap',xAxisIndex:bx,yAxisIndex:by,data:barLevels.map((v,k)=>[0,k,Number(v)]),progressive:0,silent:true});
});

const titleStyle={fontFamily:'Liberation Sans',fontSize:24,fill:'#000',textAlign:'center',textVerticalAlign:'middle'};
const graphic=[];
columnTitles.forEach((t,i)=>graphic.push({type:'text',x:[238.5,642][i],y:26,style:{...titleStyle,text:t}}));
rowTitles.forEach((t,i)=>graphic.push({type:'text',x:23,y:[220,540,868,1188][i],rotation:Math.PI/2,style:{...titleStyle,text:t}}));

const chart=echarts.init(document.getElementById('c'),null,{renderer:'canvas'});
chart.setOption({animation:false,backgroundColor:'#fff',grid,xAxis,yAxis,series,graphic,tooltip:{show:false},
  visualMap:{show:false,type:'continuous',min:0,max:30,dimension:2,seriesIndex:vmIdx,inRange:{color:colorStops}}});
</script></body></html>
